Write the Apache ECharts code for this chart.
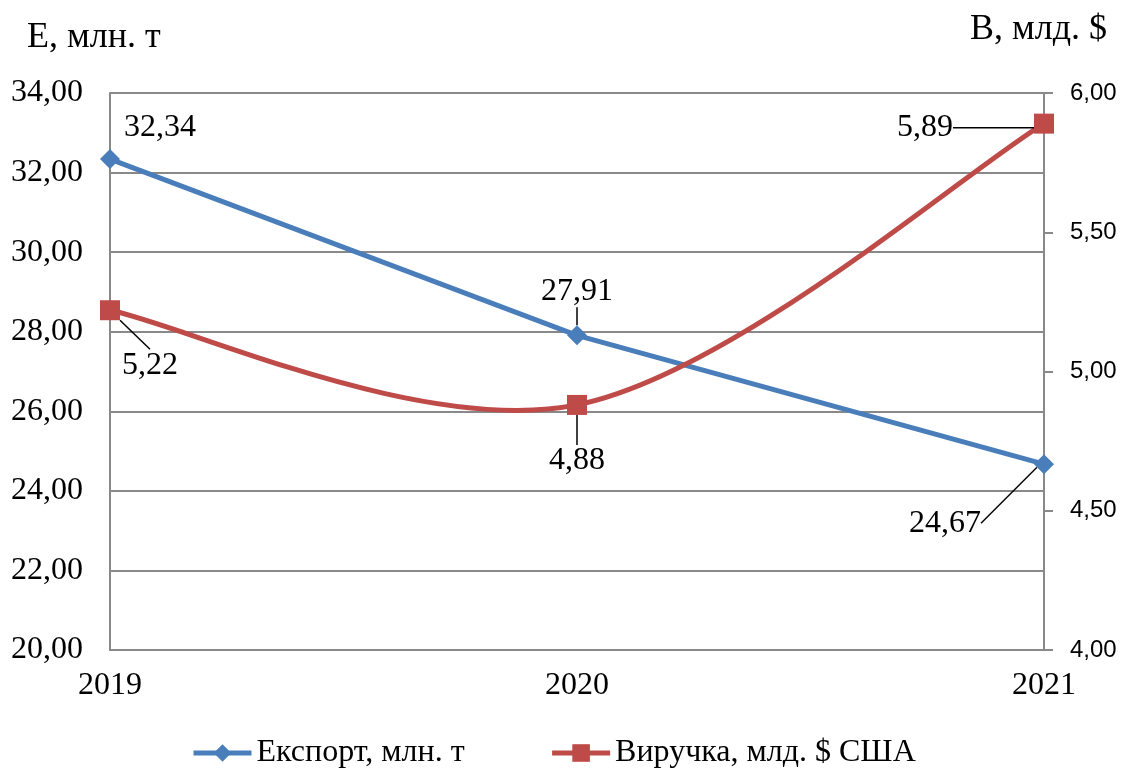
<!DOCTYPE html>
<html>
<head>
<meta charset="utf-8">
<script src="https://cdn.jsdelivr.net/npm/echarts@6/dist/echarts.min.js"></script>
<style>
  html, body { margin: 0; padding: 0; background: #fff; }
  #chart { width: 1128px; height: 776px; }
</style>
</head>
<body>
<div id="chart"></div>
<script>
'use strict';

const years = ['2019', '2020', '2021'];
const exportValues = [32.34, 27.91, 24.67];
const revenueValues = [5.22, 4.88, 5.89];
const seriesNames = ['Експорт, млн. т', 'Виручка, млд. $ США'];
const leftAxisTitle = 'Е, млн. т';
const rightAxisTitle = 'В, млд. $';

// label offsets from the point (label centre), per series / per point
const labelShift = [
    [[50, -31], [0, -44], [-99, 59]],
    [[40, 55], [0, 56], [-119, 4]],
];
const showLeader = [
    [false, true, true],
    [true, true, true],
];

const blue = '#4a7ebb';
const red = '#be4b48';
const serif = '"Liberation Serif", "DejaVu Serif", serif';
const sans = '"Liberation Sans", Arial, sans-serif';
const comma = v => v.toFixed(2).replace('.', ',');

const chart = echarts.init(document.getElementById('chart'));

function makeData(values, si) {
    return values.map((v, i) => ({
        value: v,
        labelLine: { show: showLeader[si][i] },
    }));
}

// excel-like smoothed curve (catmull-rom -> bezier), points go through the axis scales
function renderSmooth(params, api) {
    if (params.dataIndex !== 0) return null;
    const pts = revenueValues.map((v, i) => api.coord([i, v]));
    const n = pts.length;
    const children = [];
    for (let i = 0; i < n - 1; i++) {
        const p0 = pts[Math.max(i - 1, 0)];
        const p1 = pts[i];
        const p2 = pts[i + 1];
        const p3 = pts[Math.min(i + 2, n - 1)];
        children.push({
            type: 'bezierCurve',
            shape: {
                x1: p1[0], y1: p1[1],
                cpx1: p1[0] + (p2[0] - p0[0]) / 6, cpy1: p1[1] + (p2[1] - p0[1]) / 6,
                cpx2: p2[0] - (p3[0] - p1[0]) / 6, cpy2: p2[1] - (p3[1] - p1[1]) / 6,
                x2: p2[0], y2: p2[1],
            },
            style: { stroke: red, lineWidth: 5, fill: null, lineCap: 'round' },
        });
    }
    return { type: 'group', children };
}

const labelStyle = {
    show: true,
    position: 'inside',
    fontFamily: serif,
    fontSize: 32,
    color: '#000',
    formatter: p => comma(p.value),
};

chart.setOption({
    animation: false,
    title: [
        { text: leftAxisTitle, left: 22, top: 15, textStyle: { fontFamily: serif, fontSize: 36, fontWeight: 'normal', color: '#000' } },
        { text: rightAxisTitle, right: 16, top: 7, textStyle: { fontFamily: serif, fontSize: 36, fontWeight: 'normal', color: '#000' } },
    ],
    grid: { left: 110, right: 84, top: 93, bottom: 126, containLabel: false },
    legend: {
        bottom: 2,
        left: 186,
        itemWidth: 58,
        itemHeight: 22,
        itemGap: 85,
        textStyle: { fontFamily: serif, fontSize: 32, color: '#000' },
        data: [
            { name: seriesNames[0], lineStyle: { color: blue, width: 5, opacity: 1 }, itemStyle: { color: blue } },
            { name: seriesNames[1], lineStyle: { color: red, width: 5, opacity: 1 }, itemStyle: { color: red } },
        ],
    },
    xAxis: {
        type: 'category',
        data: years,
        boundaryGap: false,
        axisLine: { lineStyle: { color: '#898989', width: 2 } },
        axisTick: { show: false },
        axisLabel: { fontFamily: serif, fontSize: 32, color: '#000', margin: 20 },
    },
    yAxis: [
        {
            type: 'value',
            min: 20, max: 34, interval: 2,
            axisLine: { show: true, lineStyle: { color: '#898989', width: 2 } },
            axisTick: { show: false },
            splitLine: { lineStyle: { color: '#898989', width: 2 } },
            axisLabel: { fontFamily: serif, fontSize: 32, color: '#000', margin: 27, formatter: comma },
        },
        {
            type: 'value',
            position: 'right',
            min: 4, max: 6, interval: 0.5,
            axisLine: { show: true, lineStyle: { color: '#898989', width: 2 } },
            axisTick: { show: true, length: 9, lineStyle: { color: '#898989', width: 2 } },
            splitLine: { show: false },
            axisLabel: { fontFamily: sans, fontSize: 24, color: '#000', margin: 26, formatter: comma },
        },
    ],
    series: [
        {
            name: seriesNames[0],
            type: 'line',
            yAxisIndex: 0,
            data: makeData(exportValues, 0),
            symbol: 'diamond',
            symbolSize: 20,
            lineStyle: { color: blue, width: 5 },
            itemStyle: { color: blue },
            label: labelStyle,
            labelLine: { lineStyle: { color: '#000', width: 1.5 } },
            labelLayout: p => ({ dx: labelShift[0][p.dataIndex][0], dy: labelShift[0][p.dataIndex][1] }),
            z: 3,
        },
        {
            name: 'curve',
            type: 'custom',
            yAxisIndex: 1,
            data: revenueValues.map((v, i) => [i, v]),
            renderItem: renderSmooth,
            silent: true,
            z: 4,
        },
        {
            name: seriesNames[1],
            type: 'line',
            yAxisIndex: 1,
            data: makeData(revenueValues, 1),
            symbol: 'rect',
            symbolSize: 20,
            lineStyle: { color: red, width: 0, opacity: 0 },
            itemStyle: { color: red },
            label: labelStyle,
            labelLine: { lineStyle: { color: '#000', width: 1.5 } },
            labelLayout: p => ({ dx: labelShift[1][p.dataIndex][0], dy: labelShift[1][p.dataIndex][1] }),
            z: 5,
        },
    ],
});
</script>
</body>
</html>
